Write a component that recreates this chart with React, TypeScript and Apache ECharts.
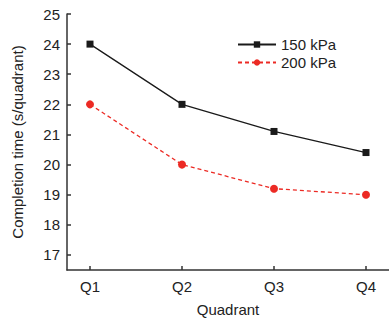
import React, { useEffect, useRef } from "react";
import * as echarts from "echarts";

const quadrants = ["Q1", "Q2", "Q3", "Q4"];
const seriesNames = ["150 kPa", "200 kPa"];
const values150 = [24, 22, 21.1, 20.4];
const values200 = [22, 20, 19.2, 19.0];
const yTicks = [17, 18, 19, 20, 21, 22, 23, 24, 25];

export default function App() {
  const ref = useRef<HTMLDivElement>(null);
  useEffect(() => {
    if (!ref.current) return;
    const chart = echarts.init(ref.current, null, { renderer: "svg" });
    const font = "'Liberation Sans', Arial, sans-serif";
    const toPoints = (vals: number[]) => vals.map((v, i) => [i + 1, v]);
    chart.setOption({
      animation: false,
      backgroundColor: "#ffffff",
      textStyle: { fontFamily: font },
      grid: { left: 67, right: 0, top: 14, bottom: 52, containLabel: false, outerBoundsMode: "none" },
      legend: {
        left: 232,
        top: 32,
        orient: "vertical",
        itemWidth: 38,
        itemHeight: 8,
        itemGap: 3,
        textStyle: { fontFamily: font, fontSize: 15, color: "#222" },
        data: seriesNames,
      },
      xAxis: {
        type: "value",
        min: 0.75,
        max: 4.25,
        name: "Quadrant",
        nameLocation: "middle",
        nameGap: 32,
        nameTextStyle: { fontFamily: font, fontSize: 15, color: "#222" },
        axisLine: { show: true, lineStyle: { color: "#333", width: 1.5 } },
        axisTick: { show: true, inside: true, length: 4, customValues: [1, 2, 3, 4], lineStyle: { color: "#333", width: 1.5 } },
        axisLabel: {
          customValues: [1, 2, 3, 4],
          formatter: (v: number) => quadrants[Math.round(v) - 1] ?? "",
          fontFamily: font,
          fontSize: 15,
          color: "#222",
          margin: 9,
        },
        splitLine: { show: false },
      },
      yAxis: {
        type: "value",
        min: 16.5,
        max: 25,
        name: "Completion time (s/quadrant)",
        nameLocation: "middle",
        nameGap: 42,
        nameTextStyle: { fontFamily: font, fontSize: 15, color: "#222" },
        axisLine: { show: true, lineStyle: { color: "#333", width: 1.5 } },
        axisTick: { show: true, inside: true, length: 4, customValues: yTicks, lineStyle: { color: "#333", width: 1.5 } },
        axisLabel: {
          customValues: yTicks,
          fontFamily: font,
          fontSize: 15,
          color: "#222",
          margin: 7,
        },
        splitLine: { show: false },
      },
      series: [
        {
          name: seriesNames[0],
          type: "line",
          data: toPoints(values150),
          symbol: "rect",
          symbolSize: 7,
          itemStyle: { color: "#1a1a1a" },
          lineStyle: { color: "#1a1a1a", width: 1.3 },
        },
        {
          name: seriesNames[1],
          type: "line",
          data: toPoints(values200),
          symbol: "circle",
          symbolSize: 8,
          itemStyle: { color: "#ec2a24" },
          lineStyle: { color: "#ec2a24", width: 1.3, type: [4, 3] },
        },
      ],
    });
    return () => chart.dispose();
  }, []);
  return (
    <div
      ref={ref}
      style={{ position: "fixed", left: 0, top: 0, width: 389, height: 322 }}
    />
  );
}
